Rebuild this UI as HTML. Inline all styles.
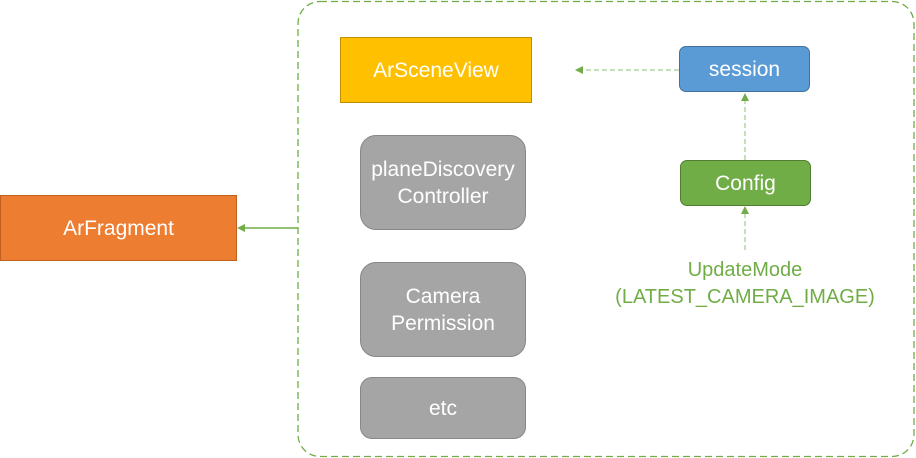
<!DOCTYPE html>
<html><head><style>
body{margin:0;width:916px;height:458px;background:#fff;position:relative;overflow:hidden;font-family:"Liberation Sans",sans-serif;}
.b{position:absolute;display:flex;align-items:center;justify-content:center;text-align:center;color:#fff;font-size:21px;line-height:27px;box-sizing:border-box;}
</style></head><body>
<svg width="916" height="458" style="position:absolute;left:0;top:0">
<rect x="298" y="1.5" width="616" height="455" rx="22" fill="none" stroke="#70ad47" stroke-width="1.3" stroke-dasharray="7,4"/>
<line x1="298" y1="228" x2="243" y2="228" stroke="#70ad47" stroke-width="1.5"/>
<polygon points="237,228 245,224 245,232" fill="#70ad47"/>
<line x1="679" y1="70" x2="584" y2="70" stroke="#8fc27a" stroke-width="1" stroke-dasharray="5,3"/>
<polygon points="531,70 539,66 539,74" fill="#70ad47" transform="translate(44,0)"/>
<line x1="745" y1="160" x2="745" y2="100" stroke="#8fc27a" stroke-width="1" stroke-dasharray="5,3"/>
<polygon points="745,93 741,101 749,101" fill="#70ad47"/>
<line x1="745" y1="250" x2="745" y2="213" stroke="#8fc27a" stroke-width="1" stroke-dasharray="5,3"/>
<polygon points="745,206 741,214 749,214" fill="#70ad47"/>
</svg>
<div class="b" style="left:0;top:195px;width:237px;height:66px;background:#ed7d31;border:1px solid #c0601e">ArFragment</div>
<div class="b" style="left:340px;top:37px;width:192px;height:66px;background:#ffc000;border:1px solid #c09000">ArSceneView</div>
<div class="b" style="left:679px;top:46px;width:131px;height:46px;background:#5b9bd5;border:1px solid #41719c;border-radius:7px">session</div>
<div class="b" style="left:680px;top:160px;width:131px;height:46px;background:#70ad47;border:1px solid #507e32;border-radius:7px">Config</div>
<div class="b" style="left:360px;top:135px;width:166px;height:95px;background:#a5a5a5;border:1px solid #878787;border-radius:16px">planeDiscovery<br>Controller</div>
<div class="b" style="left:360px;top:262px;width:166px;height:95px;background:#a5a5a5;border:1px solid #878787;border-radius:16px">Camera<br>Permission</div>
<div class="b" style="left:360px;top:377px;width:166px;height:62px;background:#a5a5a5;border:1px solid #878787;border-radius:12px">etc</div>
<div class="b" style="left:590px;top:256px;width:310px;height:56px;color:#70ad47;font-size:20px">UpdateMode<br>(LATEST_CAMERA_IMAGE)</div>
</body></html>
